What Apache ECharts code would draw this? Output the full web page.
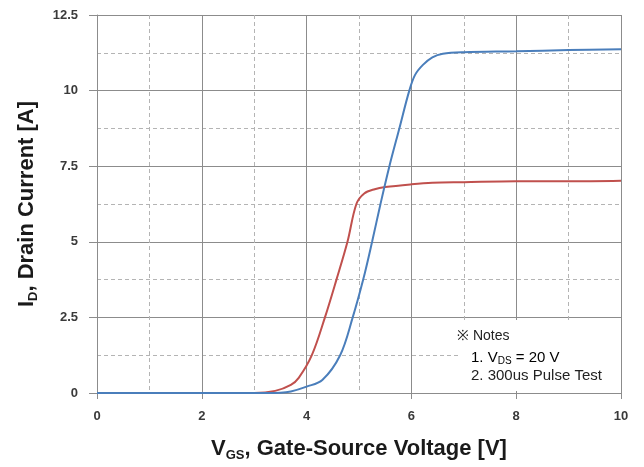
<!DOCTYPE html>
<html>
<head>
<meta charset="utf-8">
<script src="https://cdn.jsdelivr.net/npm/echarts@6/dist/echarts.min.js"></script>
<style>
  html, body { margin: 0; padding: 0; background: #fff; }
  #chart { width: 644px; height: 467px; }
</style>
</head>
<body>
<div id="chart"></div>
<script>
  // 25℃ 曲线
  const vgs25 = [0, 1, 2, 3, 3.5, 3.7, 4.0, 4.3, 4.64, 4.88, 5.08, 5.25, 5.41, 5.58, 5.77, 5.96, 6.07, 6.22, 6.4, 6.6, 7, 8, 9, 10]
  const id25 = [0, 0, 0, 0, 0.01, 0.05, 0.21, 0.43, 1.25, 2.5, 3.75, 5, 6.25, 7.5, 8.75, 10, 10.52, 10.85, 11.1, 11.22, 11.27, 11.3, 11.34, 11.37]
  // 150℃ 曲线
  const vgs150 = [0, 1, 2, 3, 3.4, 3.7, 3.85, 4.1, 4.35, 4.57, 4.78, 4.95, 5.1, 5.3, 5.5, 6, 6.4, 7, 8, 9, 10]
  const id150 = [0, 0, 0, 0, 0.07, 0.27, 0.5, 1.25, 2.5, 3.75, 5, 6.25, 6.6, 6.74, 6.81, 6.9, 6.95, 6.97, 7.0, 7.0, 7.02]
  const xTicks = [0, 2, 4, 6, 8, 10]
  const yTicks = [0, 2.5, 5, 7.5, 10, 12.5]
  const notes = ['※ Notes', '{v|1. V}{s|DS}{v| = 20 V}', '2. 300us Pulse Test']

  const pairs = (xs, ys) => xs.map((x, i) => [x, ys[i]])

  const mychart = echarts.init(document.getElementById('chart'))
  const labelStyle = { color: '#3a3a3a', fontSize: 13, fontWeight: 'bold', fontFamily: 'Liberation Sans' }
  const nameRich = (size, subSize) => ({
    b: { fontSize: size, fontWeight: 'bold', fontFamily: 'Liberation Sans', color: '#1a1a1a', lineHeight: size + 4 },
    s: { fontSize: subSize, fontWeight: 'bold', fontFamily: 'Liberation Sans', color: '#1a1a1a', lineHeight: subSize, verticalAlign: 'bottom' },
  })
  const option = {
    animation: false,
    grid: { left: 97, right: 23, top: 15, bottom: 74 },
    xAxis: {
      type: 'value',
      min: xTicks[0],
      max: xTicks[xTicks.length - 1],
      interval: 2,
      name: '{b|V}{s|GS}{b|, Gate-Source Voltage [V]}',
      nameLocation: 'middle',
      nameGap: 43,
      nameTextStyle: { rich: nameRich(22, 13) },
      axisLine: { show: true, lineStyle: { color: '#8c8c8c', width: 1 } },
      axisTick: { show: true, length: 6, lineStyle: { color: '#8c8c8c' } },
      axisLabel: { ...labelStyle, margin: 17 },
      splitLine: { show: true, lineStyle: { color: '#8c8c8c', width: 1 } },
      minorTick: { show: false, splitNumber: 2 },
      minorSplitLine: { show: true, lineStyle: { color: '#b4b4b4', type: [4, 3] } },
    },
    yAxis: {
      type: 'value',
      min: yTicks[0],
      max: yTicks[yTicks.length - 1],
      interval: 2.5,
      name: '{b|I}{s|D}{b|, Drain Current [A]}',
      nameLocation: 'middle',
      nameGap: 57,
      nameTextStyle: { rich: nameRich(22, 13) },
      axisLine: { show: true, lineStyle: { color: '#8c8c8c', width: 1 } },
      axisTick: { show: true, length: 8, lineStyle: { color: '#8c8c8c' } },
      axisLabel: { ...labelStyle, margin: 19 },
      splitLine: { show: true, lineStyle: { color: '#8c8c8c', width: 1 } },
      minorTick: { show: false, splitNumber: 2 },
      minorSplitLine: { show: true, lineStyle: { color: '#b4b4b4', type: [4, 3] } },
    },
    graphic: [
      {
        type: 'rect',
        shape: { x: 460, y: 320, width: 160, height: 71 },
        style: { fill: '#fff' },
        z: 5,
      },
      {
        type: 'text',
        x: 457, y: 329, z: 6,
        style: { text: notes[0], fontSize: 14, fontFamily: 'Liberation Sans', fill: '#222' },
      },
      {
        type: 'text',
        x: 471, y: 349, z: 6,
        style: {
          text: notes[1],
          rich: {
            v: { fontSize: 15, fontFamily: 'Liberation Sans', color: '#222', lineHeight: 17 },
            s: { fontSize: 10, fontFamily: 'Liberation Sans', color: '#222', lineHeight: 10, verticalAlign: 'bottom' },
          },
        },
      },
      {
        type: 'text',
        x: 471, y: 368, z: 6,
        style: { text: notes[2], fontSize: 15, fontFamily: 'Liberation Sans', fill: '#222' },
      },
    ],
    series: [
      {
        name: '25℃',
        type: 'line',
        data: pairs(vgs25, id25),
        smooth: 0.35,
        showSymbol: false,
        lineStyle: { color: '#4a7ebb', width: 2 },
        z: 3,
        markPoint: {
          symbol: 'none',
          label: { show: true, formatter: '25℃', fontSize: 13, fontWeight: 'bold', fontFamily: 'Liberation Sans', color: '#222' },
          data: [{ coord: [8.5, 11.75] }],
        },
      },
      {
        name: '150℃',
        type: 'line',
        data: pairs(vgs150, id150),
        smooth: 0.35,
        showSymbol: false,
        lineStyle: { color: '#c0504d', width: 2 },
        z: 2,
        markPoint: {
          symbol: 'none',
          label: { show: true, formatter: '150℃', fontSize: 13, fontWeight: 'bold', fontFamily: 'Liberation Sans', color: '#222' },
          data: [{ coord: [8.5, 7.88] }],
        },
      },
    ],
  }
  mychart.setOption(option)
</script>
</body>
</html>
